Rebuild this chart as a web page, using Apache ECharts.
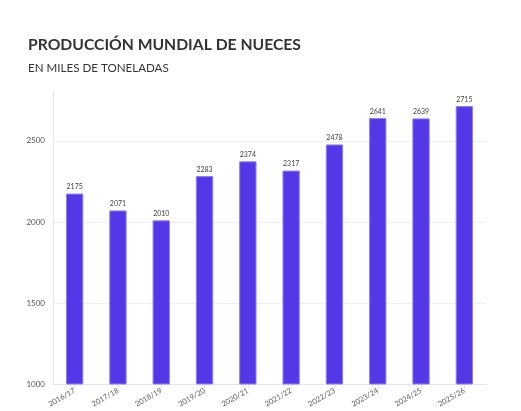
<!DOCTYPE html>
<html><head><meta charset="utf-8">
<script src="https://cdn.jsdelivr.net/npm/echarts@6/dist/echarts.min.js"></script>
<style>html,body{margin:0;padding:0;background:#fff}#c{width:521px;height:411px}</style>
</head><body><div id="c"></div>
<script>
const categories = ['2016/17','2017/18','2018/19','2019/20','2020/21','2021/22','2022/23','2023/24','2024/25','2025/26'];
const production = [2175, 2071, 2010, 2283, 2374, 2317, 2478, 2641, 2639, 2715];
const yTicks = [1000, 1500, 2000, 2500];

const chart = echarts.init(document.getElementById('c'), null, {renderer:'canvas'});
chart.setOption({
  animation:false,
  backgroundColor:'#fff',
  title:{
    text:'PRODUCCIÓN MUNDIAL DE NUECES',
    subtext:'EN MILES DE TONELADAS',
    left:23, top:32,
    itemGap:9,
    textStyle:{fontFamily:'Lato', fontWeight:'bold', fontSize:15.7, color:'#333'},
    subtextStyle:{fontFamily:'Lato', fontSize:11.6, color:'#333'}
  },
  grid:{left:53, right:35, top:91, bottom:27},
  xAxis:{
    type:'category', data:categories,
    axisLine:{lineStyle:{color:'#e6e6e6'}},
    axisTick:{show:true, alignWithLabel:true, lineStyle:{color:'#e6e6e6'}},
    axisLabel:{rotate:30, fontSize:7.5, color:'#555', fontFamily:'Lato', margin:6, interval:0}
  },
  yAxis:{
    type:'value', min:yTicks[0], max:2808, interval:500,
    axisLine:{show:true, lineStyle:{color:'#e6e6e6'}},
    axisTick:{show:false},
    axisLabel:{fontSize:8, color:'#555', fontFamily:'Lato', margin:8, showMaxLabel:false, formatter:v => String(v)},
    splitLine:{lineStyle:{color:['#eeeeee','#eeeeee','#eeeeee','#eeeeee','rgba(0,0,0,0)']}}
  },
  series:[{
    type:'bar', data:production, barWidth:'40%',
    itemStyle:{color:'#5438e8', borderColor:'#8c7cf2', borderWidth:1},
    label:{show:true, position:'top', fontSize:7, color:'#444', fontFamily:'Lato', distance:3}
  }]
});
</script></body></html>
